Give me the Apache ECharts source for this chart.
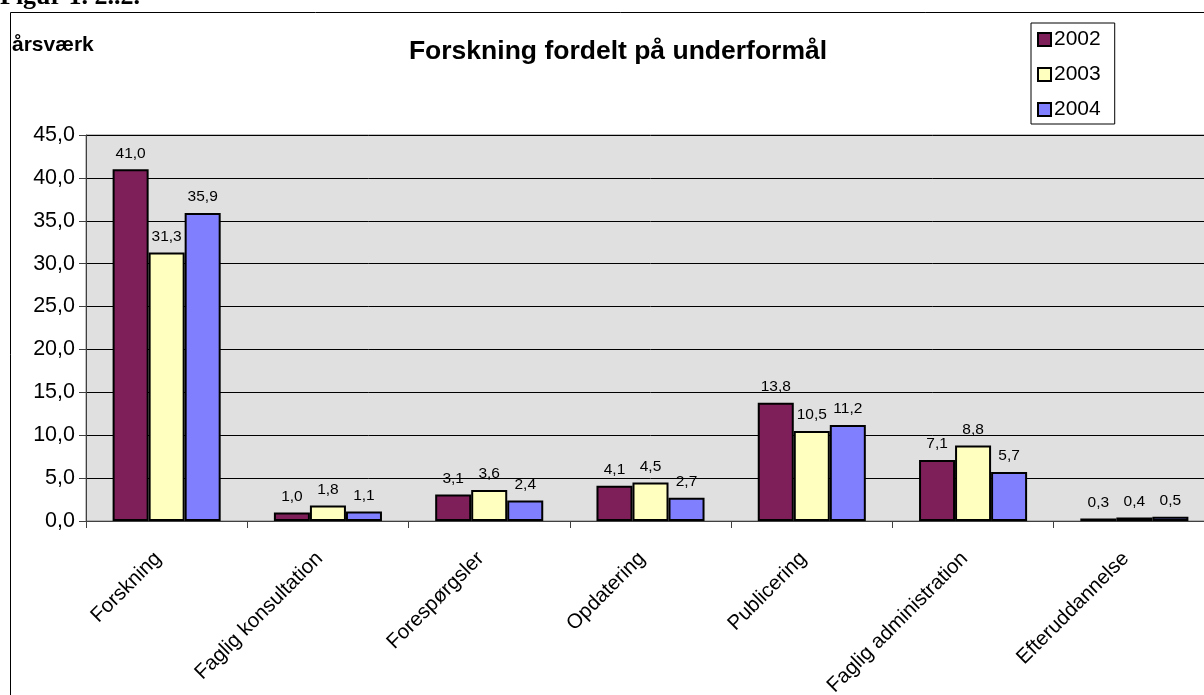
<!DOCTYPE html>
<html>
<head>
<meta charset="utf-8">
<script src="https://cdn.jsdelivr.net/npm/echarts@6/dist/echarts.min.js"></script>
<style>
html,body{margin:0;padding:0;background:#fff;overflow:hidden;width:1204px;height:695px;}
#chart{width:1230px;height:695px;}
</style>
</head>
<body>
<div id="chart"></div>
<script>
const categories = ['Forskning','Faglig konsultation','Forespørgsler','Opdatering','Publicering','Faglig administration','Efteruddannelse'];
const seriesNames = ['2002','2003','2004'];
const values2002 = [41.0, 1.0, 3.1, 4.1, 13.8, 7.1, 0.3];
const values2003 = [31.3, 1.8, 3.6, 4.5, 10.5, 8.8, 0.4];
const values2004 = [35.9, 1.1, 2.4, 2.7, 11.2, 5.7, 0.5];
const colors = ['#7E1F5A', '#FFFFC0', '#8080FF'];

const fmt = v => v.toFixed(1).replace('.', ',');
const chart = echarts.init(document.getElementById('chart'));
const allValues = [values2002, values2003, values2004];
const FONT = 'Liberation Sans, Arial, sans-serif';

chart.setOption({
  animation: false,
  textStyle: {fontFamily: FONT},
  graphic: [
    {type: 'rect', shape: {x: 10.5, y: 12.5, width: 1300, height: 800}, style: {fill: 'none', stroke: '#000', lineWidth: 1}, z: -10},
    {type: 'text', left: 0, top: -16, style: {text: 'Figur 1. 2..2.', font: 'bold 26px "Liberation Serif", "Times New Roman", serif', fill: '#000'}},
    {type: 'text', left: 12, top: 35, style: {text: 'årsværk', font: 'bold 21px "Liberation Sans", Arial, sans-serif', fill: '#000'}}
  ],
  title: {
    text: 'Forskning fordelt på underformål',
    left: 613, top: 33, textAlign: 'center',
    textStyle: {fontSize: 26.5, fontWeight: 'bold', color: '#000', fontFamily: FONT}
  },
  legend: {
    orient: 'vertical', left: 1031, top: 23,
    itemWidth: 13, itemHeight: 13, itemGap: 14,
    padding: [6, 14, 4, 6],
    borderColor: '#000', borderWidth: 1, backgroundColor: '#fff',
    icon: 'rect',
    textStyle: {fontSize: 21, color: '#000', padding: [0, 0, 0, -2]},
    data: seriesNames
  },
  grid: {left: 86, top: 135, bottom: 174, right: 15, outerBoundsMode: 'none', containLabel: false,
         show: true, backgroundColor: '#e0e0e0', borderColor: '#808080', borderWidth: 1},
  xAxis: {
    type: 'category', data: categories,
    axisLine: {lineStyle: {color: '#404040', width: 1}},
    axisTick: {show: true, length: 7, inside: false, alignWithLabel: false, lineStyle: {color: '#404040'}},
    axisLabel: {rotate: 45, fontSize: 20.5, color: '#000', margin: 26, padding: [0, 12, 0, 0], interval: 0}
  },
  yAxis: {
    type: 'value', min: 0, max: 45, interval: 5,
    axisLine: {show: true, lineStyle: {color: '#404040'}},
    axisTick: {show: true, length: 7, lineStyle: {color: '#404040'}},
    splitLine: {lineStyle: {color: '#000', width: 1}},
    axisLabel: {fontSize: 21.5, color: '#000', margin: 11, formatter: v => fmt(v)}
  },
  series: seriesNames.map((name, i) => ({
    name: name, type: 'bar', data: allValues[i],
    barGap: '0%', barCategoryGap: '33%',
    itemStyle: {color: colors[i], borderColor: '#000', borderWidth: 2},
    label: {show: true, position: 'top', distance: 8, fontSize: 15.5, color: '#000', formatter: p => fmt(p.value)}
  }))
});
</script>
</body>
</html>
